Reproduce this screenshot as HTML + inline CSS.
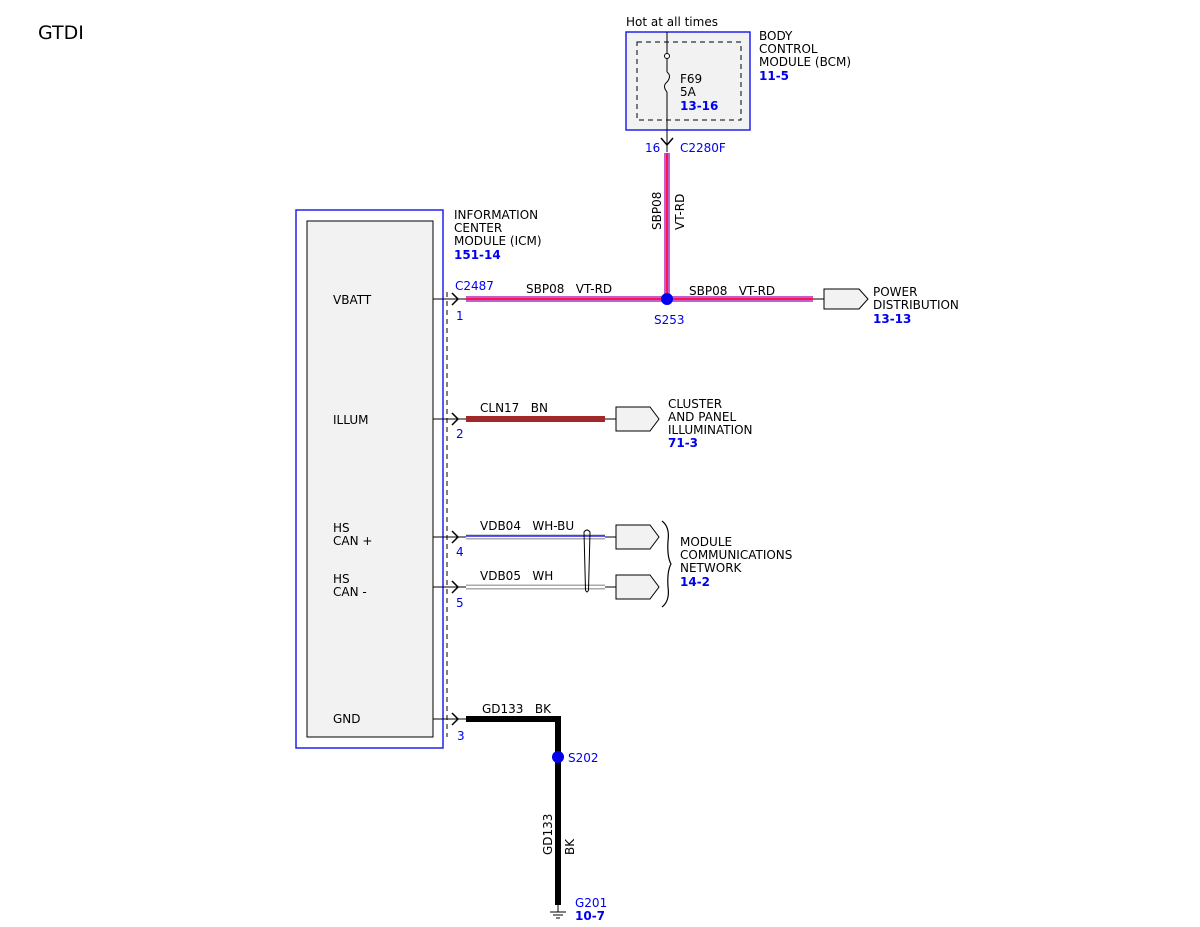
<!DOCTYPE html>
<html><head><meta charset="utf-8"><style>
body{margin:0;background:#fff}
svg{display:block}
text{font-family:"DejaVu Sans","Liberation Sans",sans-serif;font-size:12px;fill:#000;white-space:pre}
.b{fill:#0000ee}
.bb{fill:#0000ee;font-weight:bold}
</style></head><body>
<svg width="1200" height="927" viewBox="0 0 1200 927" xmlns="http://www.w3.org/2000/svg" xml:space="preserve">
<text x="38" y="39" style="font-size:19px">GTDI</text>

<!-- BCM -->
<text x="626" y="26">Hot at all times</text>
<rect x="626" y="32" width="124" height="98" fill="#f2f2f2" stroke="#2222ee" stroke-width="1.5"/>
<rect x="637" y="42" width="104" height="78" fill="none" stroke="#000" stroke-dasharray="5,4"/>
<line x1="667" y1="32" x2="667" y2="72" stroke="#000"/>
<circle cx="667" cy="56" r="2.5" fill="#fff" stroke="#000"/>
<path d="M667 72 q5 4 0 10 q-5 4 0 10" fill="none" stroke="#000"/>
<line x1="667" y1="92" x2="667" y2="152" stroke="#000"/>
<path d="M661 138 l6 7 l6 -7" fill="none" stroke="#000" stroke-width="1.5"/>
<text x="680" y="83">F69</text>
<text x="680" y="96">5A</text>
<text x="680" y="110" class="bb">13-16</text>
<text x="759" y="40">BODY</text>
<text x="759" y="53">CONTROL</text>
<text x="759" y="66">MODULE (BCM)</text>
<text x="759" y="80" class="bb">11-5</text>
<text x="645" y="152" class="b">16</text>
<text x="680" y="152" class="b">C2280F</text>

<!-- vertical SBP08 -->
<line x1="667" y1="153" x2="667" y2="299" stroke="#c060d0" stroke-width="6"/>
<line x1="667" y1="153" x2="667" y2="299" stroke="#ff1050" stroke-width="2"/>
<text transform="translate(661,230) rotate(-90)">SBP08</text>
<text transform="translate(684,230) rotate(-90)">VT-RD</text>

<!-- ICM -->
<rect x="296" y="210" width="147" height="538" fill="#fff" stroke="#2222ee" stroke-width="1.5"/>
<rect x="307" y="221" width="126" height="516" fill="#f2f2f2" stroke="#000"/>
<line x1="447" y1="292" x2="447" y2="737" stroke="#000" stroke-dasharray="5,4"/>
<text x="454" y="219">INFORMATION</text>
<text x="454" y="232">CENTER</text>
<text x="454" y="245">MODULE (ICM)</text>
<text x="454" y="259" class="bb">151-14</text>
<text x="333" y="304">VBATT</text>
<text x="333" y="424">ILLUM</text>
<text x="333" y="532">HS</text>
<text x="333" y="545">CAN +</text>
<text x="333" y="583">HS</text>
<text x="333" y="596">CAN -</text>
<text x="333" y="723">GND</text>

<!-- pin stubs -->
<g stroke="#000" fill="none">
<line x1="433" y1="299" x2="466" y2="299"/>
<line x1="433" y1="419" x2="466" y2="419"/>
<line x1="433" y1="537" x2="466" y2="537"/>
<line x1="433" y1="587" x2="466" y2="587"/>
<line x1="433" y1="719" x2="466" y2="719"/>
<g stroke-width="1.5">
<path d="M452 293 l6 6 l-6 6"/>
<path d="M452 413 l6 6 l-6 6"/>
<path d="M452 531 l6 6 l-6 6"/>
<path d="M452 581 l6 6 l-6 6"/>
<path d="M452 713 l6 6 l-6 6"/>
</g>
</g>
<text x="455" y="290" class="b">C2487</text>
<text x="456" y="320" class="b">1</text>
<text x="456" y="438" class="b">2</text>
<text x="456" y="556" class="b">4</text>
<text x="456" y="607" class="b">5</text>
<text x="457" y="740" class="b">3</text>

<!-- VBATT wire -->
<line x1="466" y1="299" x2="813" y2="299" stroke="#c060d0" stroke-width="6"/>
<line x1="466" y1="299" x2="813" y2="299" stroke="#ff1050" stroke-width="2"/>
<line x1="813" y1="299" x2="824" y2="299" stroke="#000"/>
<circle cx="667" cy="299" r="6" fill="#0000ee"/>
<text x="526" y="293">SBP08   VT-RD</text>
<text x="689" y="295">SBP08   VT-RD</text>
<text x="654" y="324" class="b">S253</text>
<path d="M824 289 h35 l9 10 l-9 10 h-35 z" fill="#f2f2f2" stroke="#000"/>
<text x="873" y="296">POWER</text>
<text x="873" y="309">DISTRIBUTION</text>
<text x="873" y="323" class="bb">13-13</text>

<!-- ILLUM -->
<line x1="466" y1="419" x2="605" y2="419" stroke="#a02828" stroke-width="6"/>
<line x1="605" y1="419" x2="616" y2="419" stroke="#000"/>
<text x="480" y="412">CLN17   BN</text>
<path d="M616 407 h34 l9 12 l-9 12 h-34 z" fill="#f2f2f2" stroke="#000"/>
<text x="668" y="408">CLUSTER</text>
<text x="668" y="421">AND PANEL</text>
<text x="668" y="434">ILLUMINATION</text>
<text x="668" y="447" class="bb">71-3</text>

<!-- CAN -->
<line x1="466" y1="537" x2="605" y2="537" stroke="#aaa" stroke-width="5"/>
<line x1="466" y1="537" x2="605" y2="537" stroke="#fff" stroke-width="2"/>
<line x1="466" y1="536" x2="605" y2="536" stroke="#2222ee" stroke-width="1.5"/>
<line x1="466" y1="587" x2="605" y2="587" stroke="#aaa" stroke-width="5"/>
<line x1="466" y1="587" x2="605" y2="587" stroke="#fff" stroke-width="2"/>
<line x1="605" y1="537" x2="616" y2="537" stroke="#000"/>
<line x1="605" y1="587" x2="616" y2="587" stroke="#000"/>
<path d="M584 532 q3 -4 6 0 l-1.5 58 q-1.5 4 -3 0 z" fill="none" stroke="#000"/>
<text x="480" y="530">VDB04   WH-BU</text>
<text x="480" y="580">VDB05   WH</text>
<path d="M616 525 h34 l9 12 l-9 12 h-34 z" fill="#f2f2f2" stroke="#000"/>
<path d="M616 575 h34 l9 12 l-9 12 h-34 z" fill="#f2f2f2" stroke="#000"/>
<path d="M662 521 q8 6 6 20 q-1 16 3 23 q-4 7 -3 23 q2 14 -6 20" fill="none" stroke="#000" stroke-width="1.2"/>
<text x="680" y="546">MODULE</text>
<text x="680" y="559">COMMUNICATIONS</text>
<text x="680" y="572">NETWORK</text>
<text x="680" y="586" class="bb">14-2</text>

<!-- GND -->
<path d="M466 719 H558 V905" fill="none" stroke="#000" stroke-width="6"/>
<circle cx="558" cy="757" r="6" fill="#0000ee"/>
<text x="568" y="762" class="b">S202</text>
<text x="482" y="713">GD133   BK</text>
<text transform="translate(552,855) rotate(-90)">GD133</text>
<text transform="translate(574,855) rotate(-90)">BK</text>
<line x1="558" y1="905" x2="558" y2="912" stroke="#000"/>
<line x1="550" y1="912" x2="566" y2="912" stroke="#000"/>
<line x1="553" y1="915" x2="563" y2="915" stroke="#000"/>
<line x1="556" y1="918" x2="560" y2="918" stroke="#000"/>
<text x="575" y="907" class="b">G201</text>
<text x="575" y="920" class="bb">10-7</text>
</svg>
</body></html>
